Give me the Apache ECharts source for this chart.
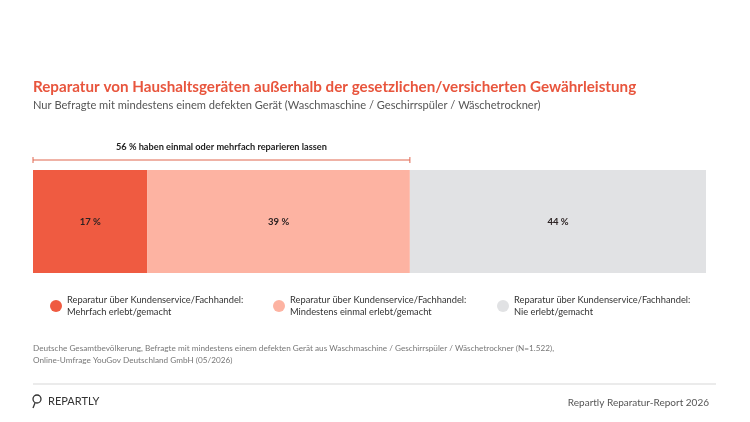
<!DOCTYPE html>
<html>
<head>
    <meta charset="utf-8" />
    <script src="https://cdn.jsdelivr.net/npm/echarts@6/dist/echarts.min.js"></script>
    <title></title>
    <style>
        body { margin: 0; background: #fff; }
    </style>
</head>
<body>
    <div id="main" style="width: 750px;height:422px;"></div>

    <script type="text/javascript">

        // data
        var categories = ['Gesamt'];
        var seriesNames = [
            'Reparatur über Kundenservice/Fachhandel:\nMehrfach erlebt/gemacht',
            'Reparatur über Kundenservice/Fachhandel:\nMindestens einmal erlebt/gemacht',
            'Reparatur über Kundenservice/Fachhandel:\nNie erlebt/gemacht'
        ];
        var mehrfach = [17];
        var einmal = [39];
        var nie = [44];
        var bracketValue = 56;
        var colors = ['#ef5b41', '#fdb3a2', '#e1e2e4'];

        var font = 'Lato, "Noto Sans", sans-serif';
        var myChart = echarts.init(document.getElementById('main'));

        function makeSeries(name, data, color) {
            return {
                name: name,
                type: 'bar',
                stack: 'all',
                barCategoryGap: 0,
                data: data,
                itemStyle: { color: color },
                label: {
                    show: true,
                    position: 'inside',
                    formatter: '{c} %',
                    color: '#2b2222',
                    fontFamily: font,
                    fontWeight: 'bold',
                    fontSize: 9.5
                },
                emphasis: { disabled: true }
            };
        }

        function legendAt(name, left) {
            return {
                data: [name],
                left: left,
                top: 289,
                icon: 'circle',
                itemWidth: 12,
                itemHeight: 12,
                itemGap: 0,
                selectedMode: false,
                textStyle: {
                    color: '#333',
                    fontFamily: font,
                    fontSize: 9.3,
                    lineHeight: 12
                }
            };
        }

        myChart.setOption({
            animation: false,
            title: [{
                text: 'Reparatur von Haushaltsgeräten außerhalb der gesetzlichen/versicherten Gewährleistung',
                subtext: 'Nur Befragte mit mindestens einem defekten Gerät (Waschmaschine / Geschirrspüler / Wäschetrockner)',
                left: 28,
                top: 75,
                itemGap: 5,
                textStyle: {
                    color: '#e8553d',
                    fontFamily: font,
                    fontWeight: 'bold',
                    fontSize: 15.2
                },
                subtextStyle: {
                    color: '#555',
                    fontFamily: font,
                    fontSize: 11.1
                }
            }, {
                text: 'Deutsche Gesamtbevölkerung, Befragte mit mindestens einem defekten Gerät aus Waschmaschine / Geschirrspüler / Wäschetrockner (N=1.522),\nOnline-Umfrage YouGov Deutschland GmbH (05/2026)',
                left: 28,
                top: 337,
                textStyle: {
                    color: '#777',
                    fontFamily: font,
                    fontWeight: 'normal',
                    fontSize: 8.2,
                    lineHeight: 12
                }
            }],
            legend: [
                legendAt(seriesNames[0], 45),
                legendAt(seriesNames[1], 268),
                legendAt(seriesNames[2], 492)
            ],
            grid: {
                left: 33,
                right: 44,
                top: 170,
                bottom: 149
            },
            xAxis: {
                type: 'value',
                min: 0,
                max: 100,
                show: false
            },
            yAxis: {
                type: 'category',
                data: categories,
                show: false
            },
            series: [
                makeSeries(seriesNames[0], mehrfach, colors[0]),
                makeSeries(seriesNames[1], einmal, colors[1]),
                makeSeries(seriesNames[2], nie, colors[2])
            ]
        });

        // bracket above the bar plus footer
        var x0 = myChart.convertToPixel({ xAxisIndex: 0 }, 0);
        var x1 = myChart.convertToPixel({ xAxisIndex: 0 }, bracketValue);
        var by = 160;
        var lineColor = '#e0664f';

        myChart.setOption({
            graphic: [
                {
                    type: 'polyline',
                    shape: { points: [[x0, by - 3], [x0, by + 3]] },
                    style: { stroke: lineColor, lineWidth: 1 }
                },
                {
                    type: 'line',
                    shape: { x1: x0, y1: by, x2: x1, y2: by },
                    style: { stroke: lineColor, lineWidth: 1 }
                },
                {
                    type: 'polyline',
                    shape: { points: [[x1, by - 3], [x1, by + 3]] },
                    style: { stroke: lineColor, lineWidth: 1 }
                },
                {
                    type: 'text',
                    x: (x0 + x1) / 2,
                    y: 147,
                    style: {
                        text: bracketValue + ' % haben einmal oder mehrfach reparieren lassen',
                        fill: '#222',
                        font: 'bold 9.2px ' + font,
                        textAlign: 'center',
                        textVerticalAlign: 'middle'
                    }
                },
                {
                    type: 'line',
                    shape: { x1: 33, y1: 384, x2: 716, y2: 384 },
                    style: { stroke: '#e4e4e4', lineWidth: 1.5 }
                },
                {
                    type: 'circle',
                    shape: { cx: 37, cy: 399, r: 4 },
                    style: { fill: 'none', stroke: '#333', lineWidth: 1.3 }
                },
                {
                    type: 'line',
                    shape: { x1: 35, y1: 403, x2: 33, y2: 408 },
                    style: { stroke: '#333', lineWidth: 1.3 }
                },
                {
                    type: 'text',
                    x: 48,
                    y: 401,
                    style: {
                        text: 'REPARTLY',
                        fill: '#333',
                        font: '11px ' + font,
                        textVerticalAlign: 'middle'
                    }
                },
                {
                    type: 'text',
                    x: 709,
                    y: 403,
                    style: {
                        text: 'Repartly Reparatur-Report 2026',
                        fill: '#555',
                        font: '10px ' + font,
                        textAlign: 'right',
                        textVerticalAlign: 'middle'
                    }
                }
            ]
        });

    </script>
</body>
</html>
